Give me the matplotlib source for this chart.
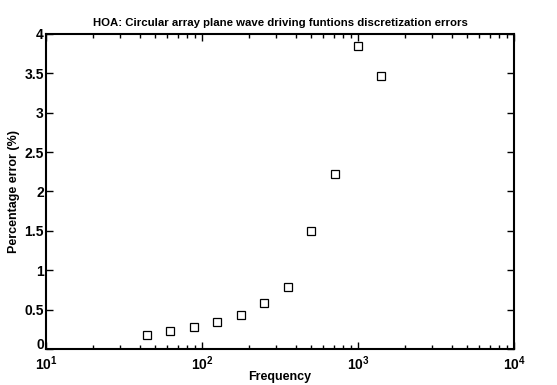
import matplotlib
matplotlib.use("Agg")
import matplotlib.pyplot as plt
from matplotlib.transforms import ScaledTranslation

plt.rcParams["font.family"] = ["Liberation Sans", "DejaVu Sans"]
plt.rcParams["font.weight"] = "bold"

freq = [44.2, 62.5, 88.4, 125, 176.8, 250, 353.6, 500, 707.1, 1000, 1414.2]
err = [0.18, 0.23, 0.28, 0.34, 0.43, 0.58, 0.79, 1.50, 2.22, 3.85, 3.47]

fig = plt.figure(figsize=(5.57, 3.85), dpi=100)
ax = fig.add_axes([0.0826, 0.0935, 0.8402, 0.8182])

ax.semilogx(freq, err, "s", markersize=6.2, markerfacecolor="white",
            markeredgecolor="black", markeredgewidth=0.9, linestyle="none")

ax.set_xlim(10, 1e4)
ax.set_ylim(0, 4)
ax.set_yticks([0, 0.5, 1, 1.5, 2, 2.5, 3, 3.5, 4])
ax.set_yticklabels(["0", "0.5", "1", "1.5", "2", "2.5", "3", "3.5", "4"])

ax.tick_params(which="both", direction="in", top=True, right=True,
               labelsize=10, width=1)
ax.tick_params(which="major", length=5)
ax.tick_params(which="minor", length=3)
ax.tick_params(axis="y", pad=1.5)
ax.tick_params(axis="x", pad=4)
for lbl in ax.get_xticklabels() + ax.get_yticklabels():
    lbl.set_fontweight("bold")
# keep the y "0" close to the axis but clear of the 10^1 label
zero = ax.get_yticklabels()[0]
zero.set_va("bottom")
zero.set_transform(zero.get_transform() + ScaledTranslation(0, -3 / 100, fig.dpi_scale_trans))
for s in ax.spines.values():
    s.set_linewidth(1.5)

ax.set_title("HOA: Circular array plane wave driving funtions discretization errors",
             fontsize=8.2, fontweight="bold", pad=6)
ax.set_xlabel("Frequency", fontsize=9, fontweight="bold", labelpad=-1.5)
ax.set_ylabel("Percentage error (%)", fontsize=9, fontweight="bold", labelpad=3)

fig.savefig("out.png", dpi=100)
